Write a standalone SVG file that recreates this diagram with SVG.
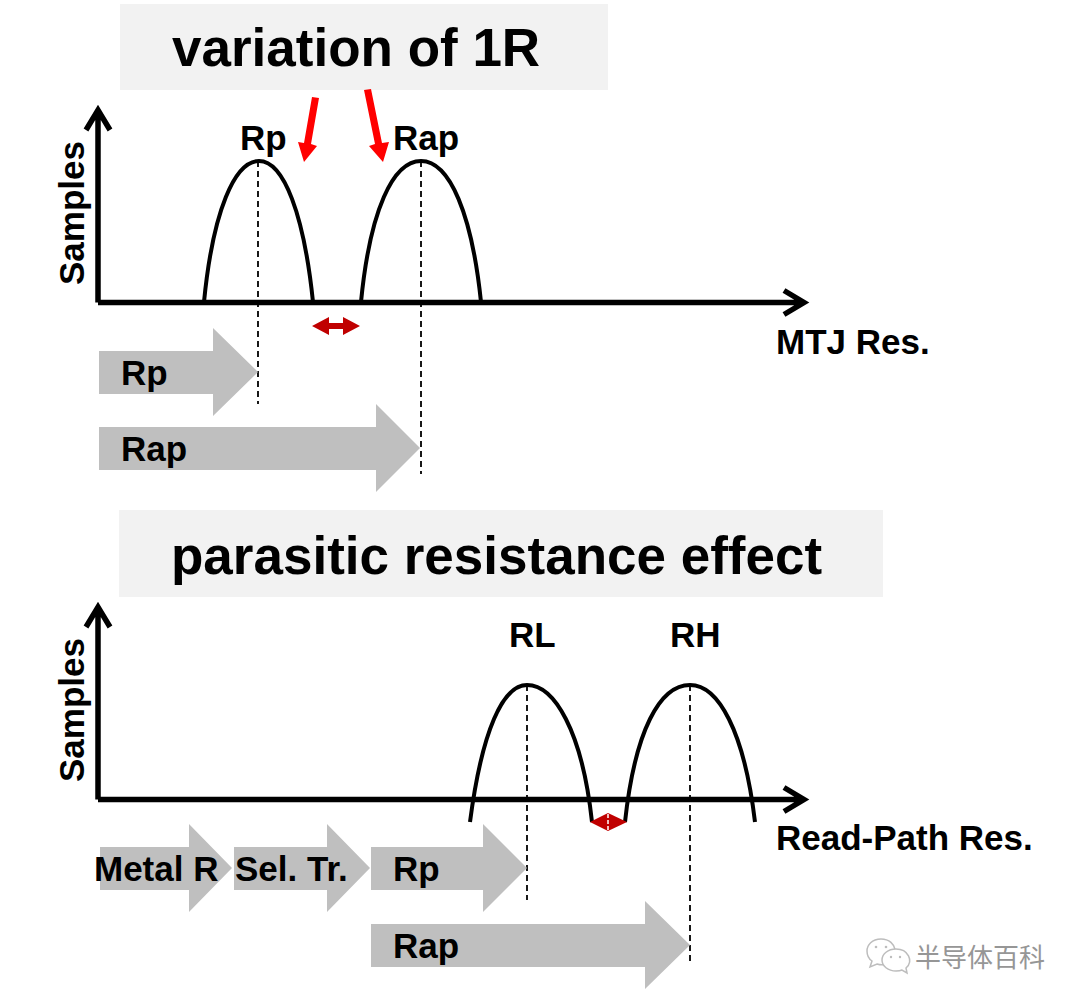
<svg xmlns="http://www.w3.org/2000/svg" width="1080" height="1005" viewBox="0 0 1080 1005">
<style>
text{font-family:"Liberation Sans",Arial,sans-serif;font-weight:700;fill:#000}
.t{font-size:53px}
.l{font-size:35px}
.bar{fill:#f2f2f2}
.ga{fill:#bfbfbf}
.ax{fill:none;stroke:#000;stroke-width:5.5}
.cv{fill:none;stroke:#000;stroke-width:4}
.d{fill:none;stroke:#000;stroke-width:1.8;stroke-dasharray:6 4}
.red{fill:#f00}
.dr{fill:#c00000}
</style>
<rect width="1080" height="1005" fill="#fff"/>
<g id="title1"><rect class="bar" x="120" y="4" width="488" height="86"/><text class="t" x="172" y="66">variation of 1R</text></g>
<g id="title2"><rect class="bar" x="119" y="510" width="764" height="87"/><text class="t" x="171" y="574">parasitic resistance effect</text></g>
<g id="axes1">
<path class="ax" d="M98 302.500V110M86 130L98 110L110 130M98 302.500H804M784 290.500L804 302.500L784 314.500"/>
<text class="l" transform="translate(84 285) rotate(-90)">Samples</text>
<text class="l" x="776" y="354">MTJ Res.</text>
</g>
<g id="axes2">
<path class="ax" d="M98 799.500V607M86 627L98 607L110 627M98 799.500H804M784 787.500L804 799.500L784 811.500"/>
<text class="l" transform="translate(84 782) rotate(-90)">Samples</text>
<text class="l" x="776" y="850">Read-Path Res.</text>
</g>
<g id="curve-rp"><path class="cv" d="M204 302C213 210 235 161 259 161C284 161 304 215 313 302"/><text class="l" x="240" y="150">Rp</text></g>
<g id="curve-rap"><path class="cv" d="M361 302C370 210 393 161 421 161C450 161 472 215 481 302"/><text class="l" x="393" y="150">Rap</text></g>
<g id="curve-rl"><path class="cv" d="M470 822C482 730 503 685 527 685C554 685 582 730 592 822"/><text class="l" x="509" y="647">RL</text></g>
<g id="curve-rh"><path class="cv" d="M625 822C635 730 660 685 690 685C718 685 744 730 755 822"/><text class="l" x="670" y="647">RH</text></g>
<g id="connectors">
<path class="d" d="M258 161V404M421 161V474M527 685V900M690 685V964"/>
<path class="red" d="M312 97L319 98L311 144L317 146L304 162L298 142L304 143Z"/>
<path class="red" d="M364 90L371 89L382 143L389 142L383 162L369 146L375 144Z"/>
<path class="dr" d="M312 326L329 317V323H343V317L360 326L343 335V329H329V335Z"/>
<path class="dr" d="M590 822L608 813L627 822L608 831Z"/>
<path d="M608 814V830" stroke="#fff" stroke-width="1.500" stroke-dasharray="4 2"/>
</g>
<g id="arrow-rp1"><path class="ga" d="M99 351H213V328L258 372L213 416V394H99Z"/><text class="l" x="121" y="385">Rp</text></g>
<g id="arrow-rap1"><path class="ga" d="M99 427H376V404L420 448L376 492V470H99Z"/><text class="l" x="121" y="461">Rap</text></g>
<g id="arrow-metal"><path class="ga" d="M100 847H189V824L232 868L189 912V890H100Z"/><text class="l" x="94" y="881">Metal R</text></g>
<g id="arrow-sel"><path class="ga" d="M234 847H327V824L370 868L327 912V890H234Z"/><text class="l" x="235" y="881">Sel. Tr.</text></g>
<g id="arrow-rp2"><path class="ga" d="M371 847H483V824L527 868L483 912V890H371Z"/><text class="l" x="393" y="881">Rp</text></g>
<g id="arrow-rap2"><path class="ga" d="M371 924H645V901L690 945L645 989V967H371Z"/><text class="l" x="393" y="958">Rap</text></g>
<g id="watermark">
<g fill="#fff" stroke="#bdbdbd" stroke-width="1.500"><path d="M881 939C872 939 867 945 867 951C867 956 869 959 872 961L870 967L877 964C880 965 884 965 887 964C900 960 898 939 881 939Z"/><path d="M896 949C888 949 882 954 882 960C882 966 888 971 896 971C898 971 900 971 902 970L907 973L906 968C914 961 908 949 896 949Z"/></g>
<g fill="#bdbdbd"><circle cx="876" cy="947" r="1.300"/><circle cx="886" cy="947" r="1.300"/><circle cx="891" cy="957" r="1.200"/><circle cx="900" cy="957" r="1.200"/></g>
<text x="915" y="967" style="font-family:'Noto Sans CJK SC','Noto Sans CJK TC',sans-serif;font-size:26px;font-weight:400;fill:#969696">半导体百科</text>
</g>
</svg>
